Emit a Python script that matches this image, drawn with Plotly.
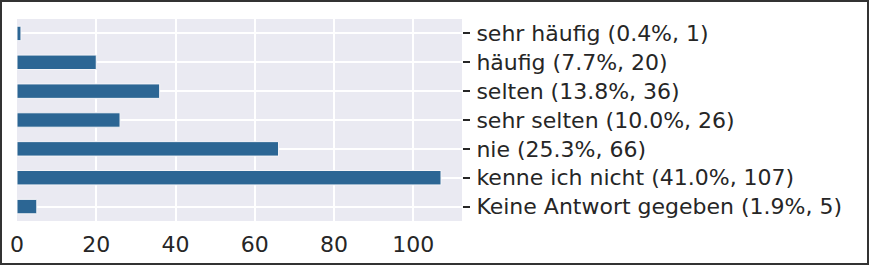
import plotly.graph_objects as go

categories = [
    "Keine Antwort gegeben (1.9%, 5)",
    "kenne ich nicht (41.0%, 107)",
    "nie (25.3%, 66)",
    "sehr selten (10.0%, 26)",
    "selten (13.8%, 36)",
    "häufig (7.7%, 20)",
    "sehr häufig (0.4%, 1)",
]
values = [5, 107, 66, 26, 36, 20, 1]
x_ticks = [0, 20, 40, 60, 80, 100]

W, H = 869, 265
ml, mr, mt, mb = 17, 407, 19, 44
pw, ph = W - ml - mr, H - mt - mb

fig = go.Figure(go.Bar(
    x=values, y=categories, orientation="h", width=0.5,
    marker=dict(color="#2c6694", line=dict(color="#f4f4f8", width=1)),
))

fig.update_layout(
    width=W, height=H,
    margin=dict(l=ml, r=mr, t=mt, b=mb, pad=0, autoexpand=False),
    paper_bgcolor="white", plot_bgcolor="#EAEAF2",
    font=dict(family="DejaVu Sans", size=22, color="#262626"),
    showlegend=False,
)
fig.update_xaxes(
    range=[0, 112.3], tickvals=x_ticks, showgrid=True, gridcolor="white",
    gridwidth=1.5, zeroline=False, showline=False, ticks="",
    tickfont=dict(size=22), ticklabelstandoff=8, automargin=False,
)
fig.update_yaxes(
    side="right", categoryorder="array", categoryarray=categories,
    range=[-0.5, 6.5], showgrid=True, gridcolor="white", gridwidth=1.5,
    zeroline=False, showline=False, ticks="outside", ticklen=7,
    tickcolor="#262626", tickwidth=1.5, tickfont=dict(size=22),
    ticklabelstandoff=2, automargin=False,
)
fig.add_shape(
    type="rect", xref="paper", yref="paper",
    x0=-(ml - 1) / pw, x1=1 + (mr - 1) / pw,
    y0=-(mb - 1) / ph, y1=1 + (mt - 1) / ph,
    line=dict(color="#333333", width=2),
)
fig.write_html("out.html")
